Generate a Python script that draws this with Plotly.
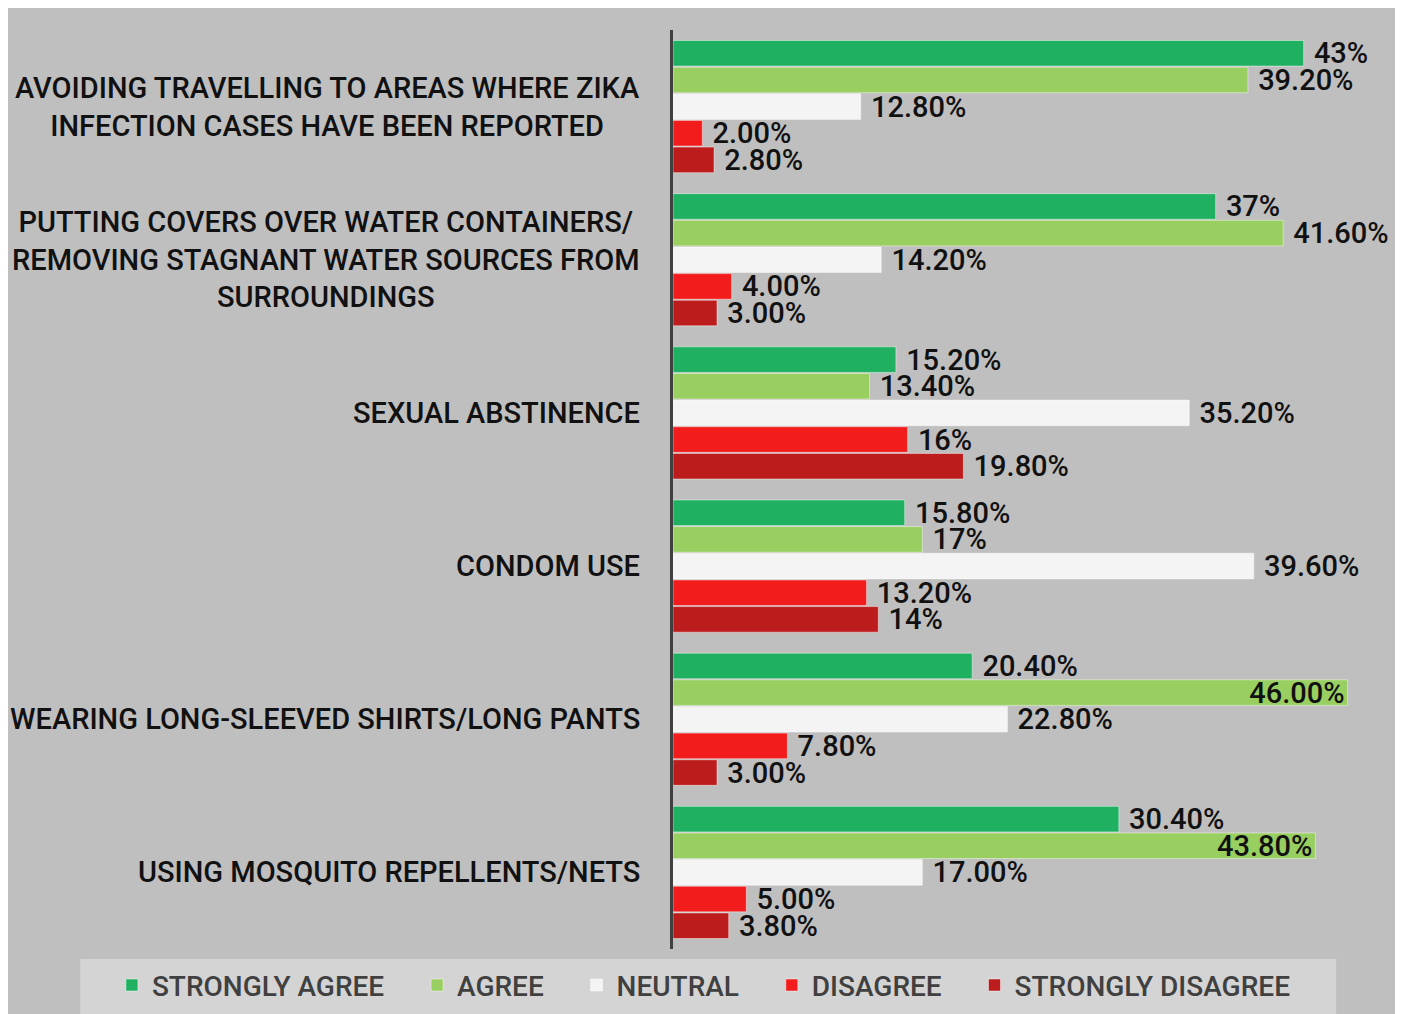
import plotly.graph_objects as go

# survey categories, top to bottom
categories = [
    "AVOIDING TRAVELLING TO AREAS WHERE ZIKA<br>INFECTION CASES HAVE BEEN REPORTED",
    "PUTTING COVERS OVER WATER CONTAINERS/<br>REMOVING STAGNANT WATER SOURCES FROM<br>SURROUNDINGS",
    "SEXUAL ABSTINENCE",
    "CONDOM USE",
    "WEARING LONG-SLEEVED SHIRTS/LONG PANTS",
    "USING MOSQUITO REPELLENTS/NETS",
]
series_names = ["STRONGLY AGREE", "AGREE", "NEUTRAL", "DISAGREE", "STRONGLY DISAGREE"]

strongly_agree = [43, 37, 15.2, 15.8, 20.4, 30.4]
agree = [39.2, 41.6, 13.4, 17, 46.0, 43.8]
neutral = [12.8, 14.2, 35.2, 39.6, 22.8, 17.0]
disagree = [2.0, 4.0, 16, 13.2, 7.8, 5.0]
strongly_disagree = [2.8, 3.0, 19.8, 14, 3.0, 3.8]

strongly_agree_lbl = ["43%", "37%", "15.20%", "15.80%", "20.40%", "30.40%"]
agree_lbl = ["39.20%", "41.60%", "13.40%", "17%", "46.00%", "43.80%"]
neutral_lbl = ["12.80%", "14.20%", "35.20%", "39.60%", "22.80%", "17.00%"]
disagree_lbl = ["2.00%", "4.00%", "16%", "13.20%", "7.80%", "5.00%"]
strongly_disagree_lbl = ["2.80%", "3.00%", "19.80%", "14%", "3.00%", "3.80%"]

values = [strongly_agree, agree, neutral, disagree, strongly_disagree]
labels = [strongly_agree_lbl, agree_lbl, neutral_lbl, disagree_lbl, strongly_disagree_lbl]
colors = ["#1FB161", "#99CF60", "#F4F4F4", "#F31C1C", "#BD1C1C"]

FONT = "Roboto"
BG = "#BFBFBF"
PAD = "\u00a0" * 4  # extra room between legend entries

fig = go.Figure()
for name, vals, lbls, col in zip(series_names, values, labels, colors):
    # the longest bars keep their label inside so it stays on the page
    pos = ["inside" if v > 43.5 else "outside" for v in vals]
    fig.add_trace(go.Bar(
        y=categories, x=vals, name=name + PAD, orientation="h",
        marker=dict(color=col, line=dict(color="rgba(255,255,255,0.45)", width=1)),
        text=lbls, textposition=pos, insidetextanchor="end", constraintext="none",
        texttemplate=" %{text}",
        textfont=dict(family=FONT, size=29, color="#111111", weight=500),
        cliponaxis=False,
    ))

# category labels as centred multi-line text right of the axis
for c in categories:
    fig.add_annotation(
        x=-0.044, xref="paper", y=c, yref="y", text=c, showarrow=False,
        xanchor="right", align="center",
        font=dict(family=FONT, size=29, color="#111111", weight=500),
    )

fig.update_layout(
    width=1403, height=1014,
    margin=dict(l=665, r=34, t=22, b=70),
    paper_bgcolor=BG, plot_bgcolor=BG,
    barmode="group", bargap=0.13, bargroupgap=0.04,
    showlegend=True,
    legend=dict(
        orientation="h", x=-0.797, xanchor="left", y=-0.0395, yanchor="middle",
        bgcolor="rgba(0,0,0,0)", font=dict(family=FONT, size=28, color="#404040", weight=500),
        traceorder="normal", itemwidth=30,
    ),
    shapes=[
        dict(type="rect", xref="paper", yref="paper", x0=-0.842, x1=0.942,
             y0=-0.09, y1=-0.0108, fillcolor="#D4D4D4", line=dict(width=0), layer="below"),
    ],
)
fig.update_xaxes(range=[0, 48], showgrid=False, showticklabels=False, zeroline=False, ticks="")
fig.update_yaxes(autorange="reversed", showticklabels=False, showgrid=False, ticks="",
                 showline=True, linecolor="#404040", linewidth=3)

fig.write_html("out.html")
